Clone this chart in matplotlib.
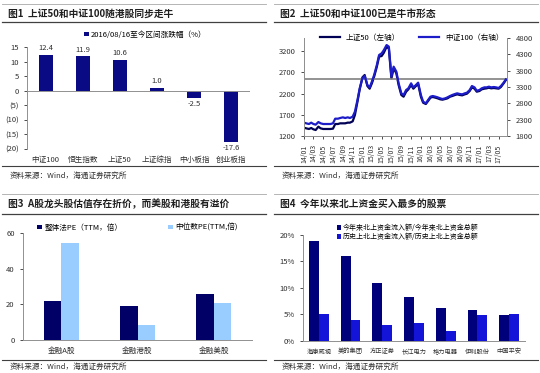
import matplotlib
matplotlib.use('Agg')
import matplotlib.pyplot as plt
import matplotlib.dates as mdates
from matplotlib.lines import Line2D
import numpy as np
import pandas as pd

plt.rcParams['font.family'] = ['Noto Sans CJK SC', 'DejaVu Sans']

# ---- fig 1: index change since 2016/08/16
idx_names = ['中证100', '恒生指数', '上证50', '上证综指', '中小板指', '创业板指']
idx_chg = [12.4, 11.9, 10.6, 1.0, -2.5, -17.6]

# ---- fig 2: SSE50 (left) and CSI100 (right), semi-monthly
sz50 = [1396, 1380, 1365, 1388, 1357, 1341, 1420, 1380, 1365, 1365, 1365, 1365,
        1373, 1482, 1482, 1498, 1498, 1498, 1514, 1514, 1545, 1694, 2008, 2298,
        2580, 2635, 2376, 2314, 2439, 2596, 2831, 3067, 3082, 3161, 3302, 3255,
        2557, 2792, 2674, 2400, 2165, 2125, 2243, 2298, 2400, 2314, 2376, 2424,
        2125, 1984, 1953, 2024, 2102, 2118, 2102, 2086, 2063, 2055, 2071, 2086,
        2125, 2141, 2165, 2180, 2165, 2157, 2180, 2196, 2259, 2345, 2314, 2243,
        2259, 2298, 2314, 2322, 2337, 2322, 2329, 2322, 2314, 2353, 2439, 2518]
zz100 = [2208, 2188, 2167, 2208, 2167, 2147, 2228, 2188, 2167, 2167, 2167, 2167,
         2188, 2330, 2330, 2351, 2371, 2351, 2371, 2351, 2392, 2545, 2902, 3259,
         3565, 3636, 3361, 3289, 3463, 3667, 3973, 4279, 4330, 4432, 4585, 4534,
         3616, 3922, 3769, 3412, 3106, 3055, 3208, 3259, 3412, 3289, 3361, 3432,
         3055, 2851, 2800, 2902, 3004, 3024, 3004, 2983, 2953, 2932, 2953, 2983,
         3024, 3055, 3085, 3106, 3085, 3075, 3106, 3126, 3208, 3330, 3289, 3187,
         3208, 3259, 3289, 3289, 3310, 3289, 3299, 3289, 3269, 3330, 3432, 3534]
dates = pd.date_range('2014-01-01', periods=len(sz50), freq='SMS')
ref_level = 2535

# ---- fig 3: PE of leading financial stocks
mkt_names = ['金融A股', '金融港股', '金融美股']
pe_total = [21.9, 19.1, 25.6]
pe_median = [54.4, 8.6, 20.9]

# ---- fig 4: northbound buying
stock_names = ['海康威视', '美的集团', '方正证券', '长江电力', '格力电器', '伊利股份', '中国平安']
share_ytd = [18.9, 16.1, 10.9, 8.3, 6.1, 5.8, 4.8]
share_hist = [5.1, 4.0, 3.0, 3.4, 1.9, 4.8, 5.0]

W, H = 540, 373
fig = plt.figure(figsize=(5.4, 3.73), dpi=100)


def fx(x):
    return x / W


def fy(y):
    return 1 - y / H


def frame(x0, x1, ytop, ytitle, ymid, yfl, yft, title):
    fig.add_artist(Line2D([fx(x0), fx(x1)], [fy(ytop)] * 2, color='#a8a8a8', lw=0.6))
    fig.text(fx(x0 + 6), fy(ytitle), title, fontsize=7, fontweight='bold',
             va='center', color='#202020')
    fig.add_artist(Line2D([fx(x0), fx(x1)], [fy(ymid)] * 2, color='#404040', lw=0.9))
    fig.add_artist(Line2D([fx(x0), fx(x1)], [fy(yfl)] * 2, color='#404040', lw=0.8))
    fig.text(fx(x0 + 8), fy(yft), '资料来源：Wind，海通证券研究所', fontsize=5.5,
             va='center', color='#303030')


def style(ax):
    for s in ax.spines.values():
        s.set_color('#909090')
        s.set_linewidth(0.7)
    ax.tick_params(labelsize=5.5, colors='#303030', width=0.6, length=2.5)
    for t in ax.get_xticklabels() + ax.get_yticklabels():
        t.set_color('#303030')


frame(2, 266, 4, 14, 22, 166, 176, '图1  上证50和中证100随港股同步走牛')
frame(274, 538, 4, 14, 22, 166, 176, '图2  上证50和中证100已是牛市形态')
frame(2, 266, 194, 204, 214, 360, 367, '图3  A股龙头股估值存在折价，而美股和港股有溢价')
frame(274, 538, 194, 204, 214, 360, 367, '图4  今年以来北上资金买入最多的股票')

# ---------- fig 1
ax1 = fig.add_axes([fx(27), fy(149), fx(250) - fx(27), fy(47) - fy(149)])
x = np.arange(len(idx_names))
ax1.bar(x, idx_chg, width=0.38, color='#0a0a84',
        label='2016/08/16至今区间涨跌幅（%）')
for xi, v in zip(x, idx_chg):
    if v >= 0:
        ax1.text(xi, v + 0.8, f'{v:.1f}', ha='center', va='bottom', fontsize=5.5, color='#303030')
    else:
        ax1.text(xi, v - 0.8, f'{v:.1f}', ha='center', va='top', fontsize=5.5, color='#303030')
ax1.axhline(0, color='#909090', lw=0.7)
ax1.set_ylim(-20, 15)
ax1.set_xlim(-0.5, len(idx_names) - 0.5)
yt = [-20, -15, -10, -5, 0, 5, 10, 15]
ax1.set_yticks(yt)
ax1.set_yticklabels([f'({-v})' if v < 0 else str(v) for v in yt])
ax1.set_xticks(x)
ax1.set_xticklabels(idx_names)
ax1.spines[['top', 'right', 'bottom']].set_visible(False)
style(ax1)
ax1.tick_params(axis='x', length=0, pad=5)
ax1.legend(loc='center', bbox_to_anchor=(0.53, 1.12), frameon=False, fontsize=5.5,
           handlelength=0.6, handleheight=0.6, handletextpad=0.3)

# ---------- fig 2
ax2 = fig.add_axes([fx(304), fy(136), fx(507) - fx(304), fy(38) - fy(136)])
ax2r = ax2.twinx()
l1, = ax2.plot(dates, sz50, color='#000055', lw=1.6, label='上证50（左轴）')
l2, = ax2r.plot(dates, zz100, color='#1c1cc8', lw=1.6, label='中证100（右轴）')
ax2.axhline(ref_level, color='#808080', lw=1.2)
ax2.set_ylim(1200, 3506)
ax2.set_yticks([1200, 1700, 2200, 2700, 3200])
ax2r.set_ylim(1800, 4800)
ax2r.set_yticks([1800, 2300, 2800, 3300, 3800, 4300, 4800])
ax2.set_xlim(pd.Timestamp('2014-01-01'), pd.Timestamp('2017-06-22'))
ax2.xaxis.set_major_locator(mdates.MonthLocator(bymonth=[1, 3, 5, 7, 9, 11]))
ax2.xaxis.set_major_formatter(mdates.DateFormatter('%y/%m'))
for a in (ax2, ax2r):
    a.spines['top'].set_visible(False)
    style(a)
ax2.tick_params(axis='x', labelsize=5, rotation=90)
ax2.legend(handles=[l1, l2], loc='center', bbox_to_anchor=(0.53, 1.0), ncol=2,
           frameon=False, fontsize=5.5, handlelength=2.6, columnspacing=2.5)

# ---------- fig 3
ax3 = fig.add_axes([fx(23), fy(340), fx(252) - fx(23), fy(233) - fy(340)])
x = np.arange(len(mkt_names))
bw = 0.23
ax3.bar(x - bw / 2, pe_total, width=bw, color='#000066', label='整体法PE（TTM，倍）')
ax3.bar(x + bw / 2, pe_median, width=bw, color='#99ccff', label='中位数PE(TTM,倍)')
ax3.set_ylim(0, 60)
ax3.set_yticks([0, 20, 40, 60])
ax3.set_xlim(-0.5, len(mkt_names) - 0.5)
ax3.set_xticks(x)
ax3.set_xticklabels(mkt_names)
ax3.spines[['top', 'right']].set_visible(False)
style(ax3)
ax3.tick_params(axis='x', length=0, pad=5)
ax3.legend(loc='center', bbox_to_anchor=(0.5, 1.05), ncol=2, frameon=False, fontsize=5.5,
           handlelength=0.6, handleheight=0.6, handletextpad=0.3, columnspacing=6)

# ---------- fig 4
ax4 = fig.add_axes([fx(303), fy(340.7), fx(525) - fx(303), fy(235) - fy(340.7)])
x = np.arange(len(stock_names))
bw = 0.31
ax4.bar(x - bw / 2, share_ytd, width=bw, color='#00007a',
        label='今年来北上资金流入额/今年来北上资金总额')
ax4.bar(x + bw / 2, share_hist, width=bw, color='#1414d8',
        label='历史上北上资金流入额/历史上北上资金总额')
ax4.set_ylim(0, 20)
ax4.set_yticks([0, 5, 10, 15, 20])
ax4.set_yticklabels(['0%', '5%', '10%', '15%', '20%'])
ax4.set_xlim(-0.5, len(stock_names) - 0.5)
ax4.set_xticks(x)
ax4.set_xticklabels(stock_names)
ax4.spines[['top', 'right']].set_visible(False)
style(ax4)
ax4.tick_params(axis='x', length=0, pad=5, labelsize=4.5)
ax4.legend(loc='upper left', bbox_to_anchor=(0.13, 1.15), frameon=False, fontsize=5,
           handlelength=0.6, handleheight=0.6, handletextpad=0.3, labelspacing=0.15,
           borderpad=0.2)

fig.savefig('out.png', dpi=100)
